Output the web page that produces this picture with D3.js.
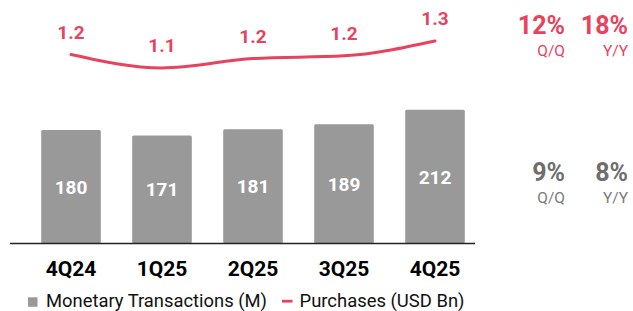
<!DOCTYPE html>
<html>
<head>
<meta charset="utf-8">
<script src="https://cdn.jsdelivr.net/npm/d3@7"></script>
<style>
  html, body { margin: 0; padding: 0; background: #fff; }
  svg { display: block; font-family: Roboto, "Noto Sans", sans-serif; }
</style>
</head>
<body>
<svg id="chart" width="633" height="311"></svg>
<script>
// ---- data ----
const categories = ["4Q24", "1Q25", "2Q25", "3Q25", "4Q25"];
const transactions = [180, 171, 181, 189, 212];        // Monetary Transactions (M)
const purchases = [1.20, 1.10, 1.17, 1.19, 1.30];      // Purchases (USD Bn)
const purchaseGrowth = ["12%", "18%"];
const transactionGrowth = ["9%", "8%"];
const growthLabels = ["Q/Q", "Y/Y"];
const legendLabels = ["Monetary Transactions (M)", "Purchases (USD Bn)"];

const PINK = "#E8435E";
const GREY = "#999999";

const svg = d3.select("#chart");

const x = d3.scaleBand().domain(categories).range([25.5, 480.5])
  .paddingInner(0.345).paddingOuter(0.1725);
const yBar = d3.scaleLinear().domain([0, 250]).range([243.3, 243.3 - 157.5]);
const yLine = d3.scaleLinear().domain([1.0, 1.4]).range([81.5, 27.5]);

// bars
svg.append("g").selectAll("rect").data(transactions).join("rect")
  .attr("x", (d, i) => x(categories[i]))
  .attr("y", d => yBar(d))
  .attr("width", x.bandwidth())
  .attr("height", d => yBar(0) - yBar(d))
  .attr("rx", 1.5)
  .attr("fill", GREY);

// bar labels
svg.append("g").selectAll("text").data(transactions).join("text")
  .attr("x", (d, i) => x(categories[i]) + x.bandwidth() / 2)
  .attr("y", d => (yBar(d) + yBar(0)) / 2 + 7)
  .attr("text-anchor", "middle")
  .attr("font-size", 19).attr("font-weight", 700)
  .attr("fill", "#fff")
  .text(d => d);

// baseline axis
const xAxis = d3.axisBottom(x).tickSize(0).tickPadding(0);
const gx = svg.append("g").attr("transform", `translate(0,${yBar(0)})`).call(xAxis);
gx.select(".domain").remove();
gx.append("line").attr("x1", 10).attr("x2", 475).attr("y1", 0.2).attr("y2", 0.2)
  .attr("stroke", "#222").attr("stroke-width", 1.3);
gx.selectAll(".tick text")
  .attr("y", 33).attr("dy", 0)
  .attr("font-family", "Roboto, sans-serif")
  .attr("font-size", 21).attr("font-weight", 700).attr("fill", "#000");

// line
const line = d3.line()
  .x((d, i) => x(categories[i]) + x.bandwidth() / 2)
  .y(d => yLine(d))
  .curve(d3.curveMonotoneX);
svg.append("path").datum(purchases)
  .attr("d", line).attr("fill", "none")
  .attr("stroke", PINK).attr("stroke-width", 3).attr("stroke-linecap", "round");

// line labels
svg.append("g").selectAll("text").data(purchases).join("text")
  .attr("x", (d, i) => x(categories[i]) + x.bandwidth() / 2)
  .attr("y", d => yLine(d) - 16)
  .attr("text-anchor", "middle")
  .attr("font-size", 19).attr("font-weight", 700)
  .attr("fill", PINK)
  .attr("stroke", "#fff").attr("stroke-width", 3).attr("paint-order", "stroke")
  .attr("stroke-linejoin", "round")
  .text(d => d.toFixed(1));

// growth annotations
const gxPos = [565, 628];
function growth(values, color, subColor, bigY, subY) {
  const g = svg.append("g");
  g.selectAll("text.big").data(values).join("text").attr("class", "big")
    .attr("x", (d, i) => gxPos[i]).attr("y", bigY)
    .attr("text-anchor", "end").attr("font-size", 25).attr("font-weight", 700)
    .attr("fill", color).text(d => d);
  g.selectAll("text.sub").data(growthLabels).join("text").attr("class", "sub")
    .attr("x", (d, i) => gxPos[i]).attr("y", subY)
    .attr("text-anchor", "end").attr("font-size", 15.5)
    .attr("fill", subColor).text(d => d);
}
growth(purchaseGrowth, PINK, PINK, 34.3, 56);
growth(transactionGrowth, "#6e6e6e", "#7a7a7a", 180.7, 203.3);

// legend
const lg = svg.append("g");
lg.append("rect").attr("x", 28).attr("y", 297.3).attr("width", 9.5).attr("height", 9.5).attr("fill", GREY);
lg.append("text").attr("x", 46).attr("y", 306.5).attr("font-size", 18)
  .attr("textLength", 221).attr("lengthAdjust", "spacingAndGlyphs")
  .attr("fill", "#111").text(legendLabels[0]);
lg.append("rect").attr("x", 282).attr("y", 299.8).attr("width", 10.5).attr("height", 2.8).attr("fill", PINK);
lg.append("text").attr("x", 299.5).attr("y", 306.5).attr("font-size", 18)
  .attr("textLength", 165).attr("lengthAdjust", "spacingAndGlyphs")
  .attr("fill", "#111").text(legendLabels[1]);
</script>
</body>
</html>
